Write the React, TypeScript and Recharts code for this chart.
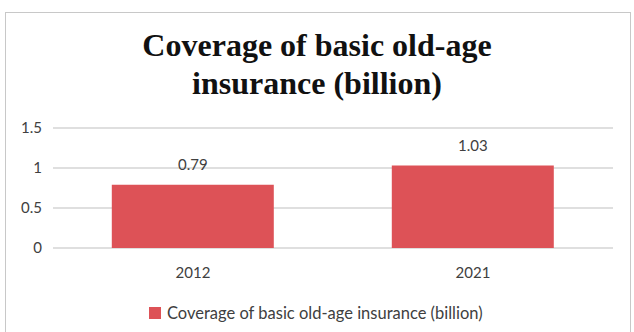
import { Bar, BarChart, CartesianGrid, LabelList, XAxis, YAxis } from "recharts";

const years = ["2012", "2021"];
const coverage = [0.79, 1.03];
const yTicks = [0, 0.5, 1, 1.5];
const seriesName = "Coverage of basic old-age insurance (billion)";
const titleLines = ["Coverage of basic old-age", "insurance (billion)"];

const data = years.map((year, i) => ({ year, value: coverage[i] }));

const BAR_COLOR = "#dd5257";
const TEXT_COLOR = "#404040";
const FONT = "Lato, 'Open Sans', sans-serif";

function LegendContent() {
  return (
    <div
      style={{
        position: "absolute",
        left: 149,
        top: 303,
        display: "flex",
        alignItems: "center",
        gap: 6,
        fontFamily: FONT,
        fontSize: 16.5,
        color: TEXT_COLOR,
      }}
    >
      <span style={{ display: "inline-block", width: 12, height: 12, background: BAR_COLOR }} />
      <span>{seriesName}</span>
    </div>
  );
}

export default function App() {
  return (
    <div
      style={{
        position: "absolute",
        left: 0,
        top: 0,
        width: 634,
        height: 332,
        background: "#fff",
        overflow: "hidden",
      }}
    >
      <div
        style={{
          position: "absolute",
          left: 5,
          top: 12,
          width: 626,
          height: 340,
          border: "1.5px solid #c8c8c8",
          boxSizing: "border-box",
        }}
      />
      <div
        style={{
          position: "absolute",
          left: 0,
          top: 26,
          width: 634,
          textAlign: "center",
          fontFamily: "'Liberation Serif', 'Times New Roman', serif",
          fontWeight: "bold",
          fontSize: 32,
          lineHeight: "38px",
          color: "#111",
        }}
      >
        {titleLines.map((line) => (
          <div key={line}>{line}</div>
        ))}
      </div>
      <div style={{ position: "absolute", left: 0, top: 0 }}>
        <BarChart
          width={634}
          height={332}
          data={data}
          margin={{ top: 128, right: 21, bottom: 54, left: 8 }}
          barCategoryGap="21%"
        >
          <CartesianGrid vertical={false} stroke="#d4d4d4" strokeWidth={1.5} />
          <XAxis
            dataKey="year"
            height={30}
            axisLine={false}
            tickLine={false}
            tickMargin={13}
            tick={{ fill: TEXT_COLOR, fontSize: 15, fontFamily: FONT }}
          />
          <YAxis
            domain={[0, 1.5]}
            ticks={yTicks}
            width={45}
            axisLine={false}
            tickLine={false}
            tickMargin={5}
            tick={{ fill: TEXT_COLOR, fontSize: 15, fontFamily: FONT }}
          />
          <Bar dataKey="value" fill={BAR_COLOR} isAnimationActive={false}>
            <LabelList
              dataKey="value"
              position="top"
              offset={15}
              fill={TEXT_COLOR}
              fontSize={15}
              fontFamily={FONT}
            />
          </Bar>
        </BarChart>
      </div>
      <LegendContent />
    </div>
  );
}
